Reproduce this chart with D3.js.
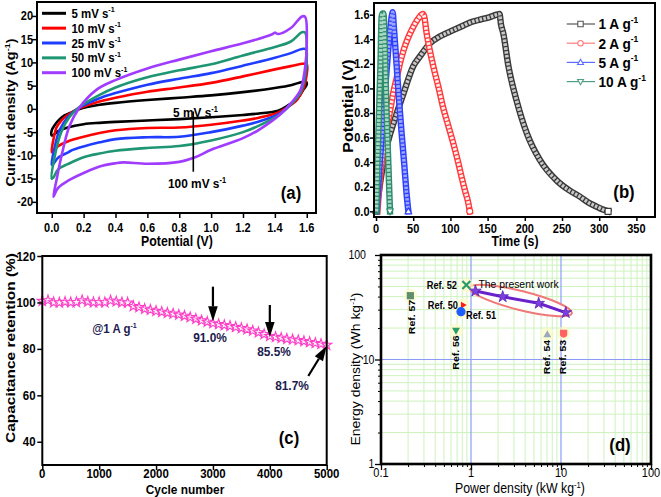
<!DOCTYPE html>
<html><head><meta charset="utf-8">
<script src="https://cdn.jsdelivr.net/npm/d3@7"></script>
<style>body{margin:0;background:#fff}svg{display:block;background:#fff}</style>
</head><body><svg id="c" width="661" height="497"></svg>
<script>
// ---------------- DATA ----------------
// (a) CV loops [potential V, current density A/g]
const cvLabels = ["5 mV s", "10 mV s", "25 mV s", "50 mV s", "100 mV s"];
const cvColors = ["#000000", "#ff0000", "#1f3dff", "#1f9673", "#a03cff"];
const cv5 = [[0.00,-5.7],[0.00,-4.6],[0.02,-3.4],[0.05,-2.2],[0.08,-1.4],[0.12,-0.8],[0.17,-0.1],[0.22,0.4],[0.3,0.9],[0.4,1.3],[0.6,1.9],[0.8,2.4],[1.0,2.9],[1.2,3.6],[1.4,4.5],[1.5,5.1],[1.57,5.8],[1.595,5.9],[1.6,5.3],[1.58,4.2],[1.54,2.2],[1.48,0.7],[1.42,-0.4],[1.3,-1.0],[1.2,-1.3],[1.0,-1.8],[0.8,-2.2],[0.6,-2.5],[0.4,-2.8],[0.3,-3.0],[0.2,-3.3],[0.1,-4.0],[0.04,-4.8],[0.01,-5.6]];
const cv10 = [[0.00,-9.3],[0.01,-6.7],[0.03,-4.0],[0.06,-2.5],[0.1,-1.3],[0.17,0.1],[0.3,1.6],[0.4,2.4],[0.6,3.7],[0.8,4.6],[1.0,5.6],[1.2,7.0],[1.4,8.5],[1.5,9.2],[1.57,9.7],[1.6,9.6],[1.6,7.5],[1.58,4.5],[1.54,2.0],[1.48,0.4],[1.42,-0.8],[1.3,-1.9],[1.2,-2.5],[1.0,-3.4],[0.8,-4.0],[0.6,-4.1],[0.4,-4.6],[0.3,-5.2],[0.2,-6.0],[0.1,-7.0],[0.04,-8.0],[0.01,-9.0]];
const cv25 = [[0.00,-12.0],[0.02,-8.0],[0.05,-4.5],[0.1,-1.8],[0.17,0.2],[0.3,2.3],[0.4,3.4],[0.6,5.2],[0.8,6.5],[1.0,7.7],[1.2,9.3],[1.4,11.0],[1.5,12.0],[1.57,12.9],[1.595,12.8],[1.6,11.0],[1.59,7.0],[1.56,3.5],[1.5,1.0],[1.43,-1.0],[1.3,-2.7],[1.2,-3.6],[1.0,-5.0],[0.8,-6.0],[0.6,-6.1],[0.4,-6.5],[0.3,-7.2],[0.2,-8.1],[0.12,-9.0],[0.1,-9.4],[0.04,-10.5],[0.01,-11.8]];
const cv50 = [[0.00,-15.0],[0.02,-10.0],[0.06,-5.0],[0.11,-1.8],[0.17,0.3],[0.3,3.0],[0.4,4.6],[0.6,6.8],[0.8,8.3],[1.0,9.6],[1.2,11.5],[1.4,13.3],[1.5,14.5],[1.57,16.5],[1.59,16.4],[1.6,12.0],[1.59,7.5],[1.56,3.5],[1.5,1.0],[1.43,-1.2],[1.3,-3.6],[1.2,-5.0],[1.0,-6.8],[0.8,-8.0],[0.6,-8.4],[0.4,-9.0],[0.3,-9.6],[0.2,-10.4],[0.1,-11.9],[0.04,-13.0],[0.01,-14.8]];
const cv100 = [[0.01,-18.9],[0.03,-15.3],[0.06,-10.3],[0.11,-3.8],[0.17,0.1],[0.28,4.1],[0.4,6.2],[0.6,8.7],[0.8,10.6],[1.0,12.4],[1.2,14.1],[1.38,16.0],[1.4,16.4],[1.42,16.1],[1.5,17.4],[1.57,19.9],[1.59,19.8],[1.6,14.0],[1.59,9.0],[1.56,4.0],[1.5,1.2],[1.44,-1.0],[1.3,-4.5],[1.2,-6.3],[1.0,-8.8],[0.9,-10.4],[0.8,-11.4],[0.6,-11.8],[0.45,-11.5],[0.4,-11.7],[0.3,-12.4],[0.2,-13.8],[0.1,-15.5],[0.04,-17.0],[0.015,-18.6]];
const cvSeries = [cv5, cv10, cv25, cv50, cv100];
const aXTicks = [0.0,0.2,0.4,0.6,0.8,1.0,1.2,1.4,1.6];
const aYTicks = [-20,-15,-10,-5,0,5,10,15,20];

// (b) galvanostatic charge-discharge [time s, potential V]
const gcdLabels = ["1 A g", "2 A g", "5 A g", "10 A g"];
const gcd1 = [[0,0],[3,0.12],[6,0.25],[10,0.4],[14,0.52],[19,0.63],[28,0.8],[37,0.96],[50,1.18],[59,1.26],[73,1.37],[85,1.42],[95,1.45],[106,1.48],[117,1.51],[128,1.54],[140,1.56],[153,1.58],[162,1.6],[166,1.605],[168,1.52],[171,1.45],[178,1.18],[189,0.9],[203,0.63],[220,0.42],[243,0.25],[260,0.17],[274,0.12],[286,0.07],[297,0.037],[305,0.015],[312,0]];
const gcd2 = [[2,0],[5,0.25],[10,0.5],[14,0.66],[19,0.82],[23,0.96],[28,1.09],[32,1.2],[37,1.31],[43,1.41],[50,1.5],[57,1.57],[63,1.605],[65,1.58],[68,1.45],[72,1.32],[77,1.18],[84,1.01],[90,0.85],[97,0.7],[104,0.55],[110,0.41],[115,0.28],[120,0.16],[124,0.07],[126,0]];
const gcd5 = [[1,0],[4,0.3],[7,0.55],[10,0.8],[13,1.05],[16,1.28],[19,1.48],[21.5,1.6],[22.4,1.62],[24,1.5],[27.8,1.18],[31,0.9],[34.5,0.63],[38,0.38],[41,0.15],[43.5,0]];
const gcd10 = [[0.5,0],[2,0.4],[4,0.8],[6,1.2],[7.5,1.58],[8.5,1.61],[10,1.61],[12,1.3],[14,0.85],[16.5,0.4],[18.8,0]];
const gcdSeries = [gcd1, gcd2, gcd5, gcd10];
const gcdColors = ["#3a3a3a", "#ff3a3a", "#2f3fff", "#2e8b6c"];
const gcdInner = ["#c8c8c8", "#ffecec", "#9aa6ff", "#a9d9c4"];
const gcdLegendLine = ["#555555", "#ff7a7a", "#5c6cff", "#4f9f82"];
const gcdSymbols = ["square", "circle", "triangle", "triangleDown"];
const bXTicks = [0,50,100,150,200,250,300,350];
const bYTicks = [0.0,0.2,0.4,0.6,0.8,1.0,1.2,1.4,1.6];

// (c) cycling stability
const cycles = [0,100,200,300,400,500,600,700,800,900,1000,1100,1200,1300,1400,1500,1600,1700,1800,1900,2000,2100,2200,2300,2400,2500,2600,2700,2800,2900,3000,3100,3200,3300,3400,3500,3600,3700,3800,3900,4000,4100,4200,4300,4400,4500,4600,4700,4800,4900,5000];
const retention = [100.6,100.9,100.0,99.9,100.2,100.0,100.1,100.9,100.3,100.0,100.1,100.0,100.8,100.4,100.0,99.9,98.4,97.9,97.2,96.8,96.3,95.9,95.5,95.1,94.7,94.2,93.6,92.9,92.2,91.6,91.0,90.6,90.2,89.8,89.4,88.9,88.4,87.8,87.1,86.3,85.5,85.1,84.7,84.3,84.0,83.7,83.3,82.9,82.5,82.1,81.7];
const cXTicks = [0,1000,2000,3000,4000,5000];
const cYTicks = [40,60,80,100,120];
const cMarks = [{cycle:3000, text:"91.0%"}, {cycle:4000, text:"85.5%"}, {cycle:5000, text:"81.7%"}];

// (d) Ragone plot
const presentPower = [1.12, 2.25, 5.65, 11.3];
const presentEnergy = [45.2, 39.9, 34.5, 28.1];
const refNames = ["Ref. 50","Ref. 51","Ref. 52","Ref. 53","Ref. 54","Ref. 56","Ref. 57"];
const refPower = [0.815, 0.774, 0.888, 10.7, 7.05, 0.681, 0.212];
const refEnergy = [33.2, 28.7, 51.6, 17.8, 17.4, 18.9, 40.8];
const refShapes = ["flag","circle","cross","shield","triangle","triangleDown","square"];
const refColors = ["#ff1a1a","#1f5cff","#2a9a6a","#ff6262","#9aaabb","#2a9a6a","#5e8e6e"];
const dXMajor = [0.1, 1, 10, 100];
const dYMajor = [1, 10, 100];
const dXLabels = ["0.1","1","10","100"];
const dYLabels = ["1","10","100"];

// ---------------- HELPERS ----------------
const FONT = '"Liberation Sans", Arial, Helvetica, sans-serif';
const SX = 0.88;
const svg = d3.select("#c");

function addText(g, x, y, parts, o = {}) {
  const size = o.size || 13;
  const tr = `translate(${x},${y})` + (o.rot ? ` rotate(-90) scale(1,${SX})` : ` scale(${SX},1)`);
  const t = g.append("text").attr("transform", tr)
    .attr("x", 0).attr("y", 0).attr("dy", o.dy || "0.35em")
    .attr("text-anchor", o.anchor || "middle")
    .attr("font-family", FONT).attr("font-size", size)
    .attr("font-weight", o.weight || "bold").attr("fill", o.color || "#000");
  if (typeof parts === "string") parts = [[parts]];
  let raised = false;
  parts.forEach(([s, sup]) => {
    const ts = t.append("tspan").text(s);
    if (sup) { ts.attr("font-size", size * 0.62).attr("dy", -size * 0.42); raised = true; }
    else if (raised) { ts.attr("dy", size * 0.42); raised = false; }
  });
  return t;
}

function frame(g, x0, y0, x1, y1, w) {
  g.append("rect").attr("x", x0).attr("y", y0).attr("width", x1 - x0).attr("height", y1 - y0)
    .attr("fill", "none").attr("stroke", "#000").attr("stroke-width", w || 2);
}

function axis(g, scale, orient, vals, pos, size, width) {
  const a = (orient === "left" ? d3.axisLeft(scale) : d3.axisBottom(scale)).tickValues(vals).tickSize(size).tickFormat("");
  const gg = g.append("g").attr("transform", orient === "left" ? `translate(${pos},0)` : `translate(0,${pos})`).call(a);
  gg.select(".domain").remove();
  gg.selectAll(".tick line").attr("stroke", "#000").attr("stroke-width", width || 1.5);
}

function symbolPath(shape, s) {
  if (shape === "square") return `M${-s},${-s}H${s}V${s}H${-s}Z`;
  if (shape === "triangle") return `M0,${-s*1.15}L${s*1.1},${s*0.8}L${-s*1.1},${s*0.8}Z`;
  if (shape === "triangleDown") return `M0,${s*1.15}L${s*1.1},${-s*0.8}L${-s*1.1},${-s*0.8}Z`;
  if (shape === "flag") return `M${-s*0.6},${-s}L${s*1.1},0L${-s*0.6},${s}Z`;
  if (shape === "circle") return d3.symbol(d3.symbolCircle, Math.PI * s * s)();
  return `M${-s},${-s}H${s}V${s*0.3}Q${s},${s} 0,${s*1.2}Q${-s},${s} ${-s},${s*0.3}Z`;
}

// ---------------- PANEL (a) ----------------
const ga = svg.append("g");
const ax = d3.scaleLinear().domain([-0.0925, 1.658]).range([37, 316]);
const ay = d3.scaleLinear().domain([-22.4, 23.0]).range([213, 2]);
svg.append("clipPath").attr("id", "clipA").append("rect").attr("x", 37).attr("y", 2).attr("width", 279).attr("height", 211);
const cvLine = d3.line().x(d => ax(d[0])).y(d => ay(d[1])).curve(d3.curveCatmullRomClosed.alpha(0.5));
const cvG = ga.append("g").attr("clip-path", "url(#clipA)");
cvSeries.forEach((s, i) => {
  cvG.append("path").attr("d", cvLine(s)).attr("fill", "none").attr("stroke", cvColors[i])
    .attr("stroke-width", 2.6).attr("stroke-linejoin", "round");
});
cvLabels.forEach((lab, i) => {
  const yy = 13.3 + i * 14.85;
  ga.append("line").attr("x1", 42).attr("x2", 66).attr("y1", yy).attr("y2", yy).attr("stroke", cvColors[i]).attr("stroke-width", 3);
  addText(ga, 71.5, yy, [[lab], ["-1", true]], {anchor: "start", size: 13});
});
ga.append("line").attr("x1", 193.3).attr("x2", 193.3).attr("y1", 111.5).attr("y2", 171.7).attr("stroke", "#000").attr("stroke-width", 1.6);
addText(ga, 195.5, 112.5, [["5 mV s"], ["-1", true]], {size: 13.5});
addText(ga, 197, 183.5, [["100 mV s"], ["-1", true]], {size: 13.5});
addText(ga, 291, 192, "(a)", {size: 19});
frame(ga, 37, 2, 316, 213, 2);
axis(ga, ay, "left", aYTicks, 37, 5);
axis(ga, ax, "bottom", aXTicks, 213, 5);
aYTicks.forEach(v => addText(ga, 33, ay(v), String(v), {anchor: "end", size: 12.5}));
aXTicks.forEach(v => addText(ga, ax(v), 227.5, d3.format(".1f")(v), {size: 12.5}));
addText(ga, 11, 112.5, [["Current density (Ag"], ["-1", true], [")"]], {rot: true, size: 14.5});
addText(ga, 177, 241, "Potential (V)", {size: 14});

// ---------------- PANEL (b) ----------------
const gb = svg.append("g");
const bx = d3.scaleLinear().domain([-2.7, 375]).range([374, 655]);
const by = d3.scaleLinear().domain([-0.046, 1.695]).range([217, 3]);
const gcdLine = d3.line().x(d => bx(d[0])).y(d => by(d[1])).curve(d3.curveMonotoneX);
gcdSeries.forEach((s, i) => {
  const p = gcdLine(s);
  gb.append("path").attr("d", p).attr("fill", "none").attr("stroke", gcdColors[i]).attr("stroke-width", 6.4)
    .attr("stroke-linejoin", "round").attr("stroke-linecap", "square");
  gb.append("path").attr("d", p).attr("fill", "none").attr("stroke", gcdInner[i]).attr("stroke-width", 3.6)
    .attr("stroke-dasharray", "2.6 1.3").attr("stroke-linejoin", "round");
  const last = s[s.length - 1];
  gb.append("path").attr("transform", `translate(${bx(last[0])},${by(last[1])})`)
    .attr("d", symbolPath(gcdSymbols[i], 3)).attr("fill", "#fff").attr("stroke", gcdColors[i]).attr("stroke-width", 1.1);
});
gcdLabels.forEach((lab, i) => {
  const yy = 24 + i * 19.2;
  gb.append("line").attr("x1", 566.7).attr("x2", 595).attr("y1", yy).attr("y2", yy).attr("stroke", gcdLegendLine[i]).attr("stroke-width", 1.2);
  gb.append("path").attr("transform", `translate(580.5,${yy})`).attr("d", symbolPath(gcdSymbols[i], 2.7))
    .attr("fill", "#fff").attr("stroke", gcdLegendLine[i]).attr("stroke-width", 1.1);
  addText(gb, 598.5, yy, [[lab], ["-1", true]], {anchor: "start", size: 15.5});
});
addText(gb, 624, 191.7, "(b)", {size: 19});
frame(gb, 374, 3, 655, 217, 2);
axis(gb, by, "left", bYTicks, 374, 4);
axis(gb, bx, "bottom", bXTicks, 217, 4);
bYTicks.forEach(v => addText(gb, 369.5, by(v), d3.format(".1f")(v), {anchor: "end", size: 12.5}));
bXTicks.forEach(v => addText(gb, bx(v), 228.5, String(v), {size: 12.5}));
addText(gb, 348, 106, "Potential (V)", {rot: true, size: 16});
addText(gb, 515, 241.5, "Time (s)", {size: 14});

// ---------------- PANEL (c) ----------------
const gc = svg.append("g");
const cx = d3.scaleLinear().domain([0, 5000]).range([42.3, 326.7]);
const cy = d3.scaleLinear().domain([30, 120]).range([465, 256]);
const cData = cycles.map((c, i) => [c, retention[i]]);
gc.append("path").attr("d", d3.line().x(d => cx(d[0])).y(d => cy(d[1]))(cData))
  .attr("fill", "none").attr("stroke", "#ff40c8").attr("stroke-width", 1.2);
const star = d3.symbol(d3.symbolStar, 32)();
gc.selectAll(".st").data(cData).join("path").attr("class", "st")
  .attr("transform", d => `translate(${cx(d[0])},${cy(d[1])})`).attr("d", star)
  .attr("fill", "#fff3fb").attr("stroke", "#ff3fc8").attr("stroke-width", 1.1);
function arrow(g, x1, y1, x2, y2) {
  const L = Math.hypot(x2 - x1, y2 - y1), ux = (x2 - x1) / L, uy = (y2 - y1) / L;
  const hl = 15, hw = 4.8;
  const bxp = x2 - ux * hl, byp = y2 - uy * hl;
  g.append("line").attr("x1", x1).attr("y1", y1).attr("x2", bxp).attr("y2", byp).attr("stroke", "#000").attr("stroke-width", 2.2);
  g.append("path").attr("d", `M${x2},${y2}L${bxp - uy * hw},${byp + ux * hw}L${bxp + uy * hw},${byp - ux * hw}Z`).attr("fill", "#000");
}
arrow(gc, cx(3000), 286.7, cx(3000), cy(91.0) - 2);
arrow(gc, cx(4000), 305, cx(4000), cy(85.5) + 1);
arrow(gc, 308.3, 376, cx(5000), cy(81.7) + 1);
const navy = "#1c1c4e";
addText(gc, 114.5, 328.5, [["@1 A g"], ["-1", true]], {size: 13, color: navy});
addText(gc, 210, 337.7, cMarks[0].text, {size: 13.5, color: navy});
addText(gc, 274, 351, cMarks[1].text, {size: 13.5, color: navy});
addText(gc, 292, 385.7, cMarks[2].text, {size: 13.5, color: navy});
addText(gc, 289, 437.7, "(c)", {size: 19});
frame(gc, 42.3, 256, 326.7, 465, 2);
axis(gc, cy, "left", cYTicks, 42.3, 5);
axis(gc, cx, "bottom", cXTicks, 465, 5);
cYTicks.forEach(v => addText(gc, 35.5, cy(v), String(v), {anchor: "end", size: 13}));
cXTicks.forEach(v => addText(gc, cx(v), 473.5, String(v), {size: 13}));
addText(gc, 10.5, 348, "Capacitance retention (%)", {rot: true, size: 15.5});
addText(gc, 185, 489, "Cycle number", {size: 13.5});

// ---------------- PANEL (d) ----------------
const gd = svg.append("g");
const dx = d3.scaleLog().domain([0.1, 100]).range([381, 651]);
const dy = d3.scaleLog().domain([1, 100]).range([464, 255]);
const dMinorX = [], dMinorY = [];
[0.1, 1, 10].forEach(m => { for (let k = 2; k < 10; k++) dMinorX.push(+(m * k).toPrecision(3)); });
[1, 10].forEach(m => { for (let k = 2; k < 10; k++) dMinorY.push(m * k); });
dMinorX.forEach(v => gd.append("line").attr("x1", dx(v)).attr("x2", dx(v)).attr("y1", 255).attr("y2", 464).attr("stroke", "#cdf3bd").attr("stroke-width", 1));
dMinorY.forEach(v => gd.append("line").attr("y1", dy(v)).attr("y2", dy(v)).attr("x1", 381).attr("x2", 651).attr("stroke", "#cdf3bd").attr("stroke-width", 1));
[1, 10].forEach(v => gd.append("line").attr("x1", dx(v)).attr("x2", dx(v)).attr("y1", 255).attr("y2", 464).attr("stroke", "#8a9cf8").attr("stroke-width", 1.2));
[10].forEach(v => gd.append("line").attr("y1", dy(v)).attr("y2", dy(v)).attr("x1", 381).attr("x2", 651).attr("stroke", "#8a9cf8").attr("stroke-width", 1.2));
{
  const p1 = [dx(0.957), dy(48.7)], p2 = [dx(13.2), dy(27.7)];
  const ccx = (p1[0] + p2[0]) / 2, ccy = (p1[1] + p2[1]) / 2;
  const rx = Math.hypot(p2[0] - p1[0], p2[1] - p1[1]) / 2;
  const ang = Math.atan2(p2[1] - p1[1], p2[0] - p1[0]) * 180 / Math.PI;
  gd.append("ellipse").attr("transform", `translate(${ccx},${ccy}) rotate(${ang})`).attr("rx", rx).attr("ry", 9.5)
    .attr("fill", "#ffffff").attr("fill-opacity", 0.85).attr("stroke", "#f07878").attr("stroke-width", 2);
}
refNames.forEach((n, i) => gd.append("circle").attr("cx", dx(refPower[i])).attr("cy", dy(refEnergy[i])).attr("r", 7).attr("fill", "#fbfbc4").attr("opacity", 0.7));
const pw = presentPower.map((p, i) => [p, presentEnergy[i]]);
gd.append("path").attr("d", d3.line().x(d => dx(d[0])).y(d => dy(d[1]))(pw)).attr("fill", "none").attr("stroke", "#6a22cc").attr("stroke-width", 3);
gd.selectAll(".pst").data(pw).join("path").attr("class", "pst")
  .attr("transform", d => `translate(${dx(d[0])},${dy(d[1])})`).attr("d", d3.symbol(d3.symbolStar, 42)())
  .attr("fill", "#7b40e0").attr("stroke", "#5a1fb0").attr("stroke-width", 0.8);
refNames.forEach((n, i) => {
  const x = dx(refPower[i]), y = dy(refEnergy[i]);
  if (refShapes[i] === "cross") {
    gd.append("path").attr("d", `M${x - 4},${y - 4}L${x + 4},${y + 4}M${x - 4},${y + 4}L${x + 4},${y - 4}`).attr("stroke", refColors[i]).attr("stroke-width", 2.2);
  } else {
    const s = refShapes[i] === "circle" ? 4.6 : (refShapes[i] === "flag" ? 3.4 : 3.6);
    gd.append("path").attr("transform", `translate(${x},${y})`).attr("d", symbolPath(refShapes[i], s)).attr("fill", refColors[i]);
  }
});
addText(gd, 457, 285, "Ref. 52", {anchor: "end", size: 10.5});
addText(gd, 518.5, 284, "The present work", {size: 11.8, weight: "normal"});
addText(gd, 458, 305, "Ref. 50", {anchor: "end", size: 10.5});
addText(gd, 466, 315.5, "Ref. 51", {anchor: "start", size: 10.5});
addText(gd, 411.5, 317, "Ref. 57", {rot: true, size: 10.5});
addText(gd, 456, 352.5, "Ref. 56", {rot: true, size: 10.5});
addText(gd, 546.7, 357, "Ref. 54", {rot: true, size: 10.5});
addText(gd, 562.7, 357, "Ref. 53", {rot: true, size: 10.5});
addText(gd, 620, 444, "(d)", {size: 19});
frame(gd, 381, 255, 651, 464, 2.6);
axis(gd, dy, "left", dYMajor, 381, 6, 1.3);
axis(gd, dy, "left", dMinorY, 381, 3, 1);
axis(gd, dx, "bottom", dXMajor, 464, 6, 1.3);
axis(gd, dx, "bottom", dMinorX, 464, 3, 1);
dYMajor.forEach((v, i) => addText(gd, v === 100 ? 366 : 374.5, dy(v), dYLabels[i], {anchor: "end", size: 12, weight: "normal"}));
dXMajor.forEach((v, i) => addText(gd, dx(v), 473, dXLabels[i], {size: 12.5, weight: "normal"}));
addText(gd, 356, 369, [["Energy density (Wh kg"], ["-1", true], [")"]], {rot: true, size: 14, weight: "normal"});
addText(gd, 520, 488.5, [["Power density (kW kg"], ["-1", true], [")"]], {size: 14, weight: "normal"});
</script></body></html>
